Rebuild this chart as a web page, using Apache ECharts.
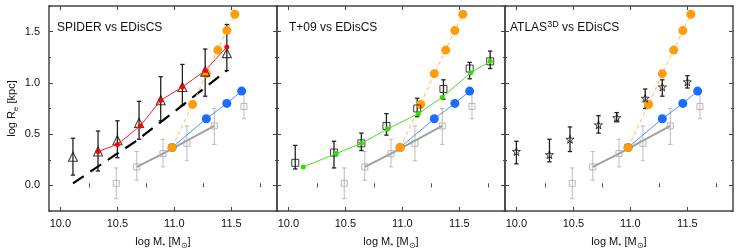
<!DOCTYPE html>
<html><head><meta charset="utf-8">
<script src="https://cdn.jsdelivr.net/npm/echarts@6/dist/echarts.min.js"></script>
<style>html,body{margin:0;padding:0;background:#fff}#c{width:747px;height:249px}</style>
</head><body><div id="c"></div>
<script>
// ---------- data ----------
const xMajor = [10.0, 10.5, 11.0, 11.5];
const xMinor = [10.25, 10.75, 11.25, 11.75];
const yMajor = [0.0, 0.5, 1.0, 1.5];
const yMinor = [-0.25, 0.25, 0.75, 1.25, 1.75];

// EDisCS (grey squares, all panels)
const edX  = [10.49, 10.67, 10.90, 11.11, 11.35, 11.61];
const edY  = [0.02, 0.18, 0.31, 0.41, 0.58, 0.77];
const edLo = [-0.13, 0.05, 0.18, 0.24, 0.40, 0.65];
const edHi = [0.17, 0.33, 0.45, 0.58, 0.75, 0.92];
const edLineX = [10.67, 10.90, 11.35];
const edLineY = [0.18, 0.31, 0.58];

// blue and orange circles (all panels)
const blueX = [10.98, 11.28, 11.46, 11.59];
const blueY = [0.37, 0.65, 0.80, 0.92];
const orangeX = [10.98, 11.16, 11.28, 11.38, 11.46, 11.53];
const orangeY = [0.37, 0.79, 1.09, 1.32, 1.51, 1.67];

// SPIDER (panel 1)
const spX  = [10.11, 10.33, 10.50, 10.69, 10.88, 11.07, 11.27, 11.46];
const spY  = [0.28, 0.33, 0.44, 0.61, 0.83, 0.96, 1.11, 1.29];
const spLo = [0.10, 0.14, 0.27, 0.45, 0.63, 0.78, 0.87, 1.12];
const spHi = [0.46, 0.53, 0.63, 0.82, 1.06, 1.18, 1.33, 1.57];
const redX = [10.33, 10.50, 10.70, 10.88, 11.07, 11.27, 11.46];
const redY = [0.33, 0.40, 0.58, 0.83, 0.96, 1.12, 1.35];
const dashX = [10.11, 10.66, 11.07, 11.46];
const dashY = [0.02, 0.43, 0.78, 1.12];

// T+09 (panel 2)
const tX  = [10.06, 10.40, 10.64, 10.86, 11.13, 11.36, 11.59, 11.77];
const tY  = [0.22, 0.32, 0.41, 0.58, 0.75, 0.94, 1.14, 1.21];
const tLo = [0.16, 0.17, 0.34, 0.49, 0.67, 0.84, 1.04, 1.14];
const tHi = [0.39, 0.43, 0.51, 0.70, 0.85, 1.03, 1.20, 1.31];
const greenX = [10.13, 10.42, 10.64, 10.87, 11.14, 11.35, 11.60, 11.77];
const greenY = [0.18, 0.31, 0.41, 0.55, 0.70, 0.86, 1.10, 1.21];

// ATLAS3D (panel 3)
const aX  = [10.00, 10.29, 10.47, 10.72, 10.88, 11.13, 11.28, 11.50];
const aY  = [0.33, 0.30, 0.45, 0.59, 0.66, 0.85, 0.96, 1.01];
const aLo = [0.21, 0.23, 0.33, 0.51, 0.62, 0.75, 0.87, 0.95];
const aHi = [0.43, 0.45, 0.57, 0.68, 0.71, 0.94, 1.03, 1.07];

// ---------- helpers ----------
const FONT = '"Liberation Sans", Arial, Helvetica, sans-serif';
const FRAME = '#444';
const zip = (a, b) => a.map((v, i) => [v, b[i]]);
const zip3 = (a, b, c) => a.map((v, i) => [v, b[i], c[i]]);
const STAR = 'path://M50,2 L61,37 L98,37 L68,59 L79,95 L50,73 L21,95 L32,59 L2,37 L39,37 Z';
const LEFTS = [49, 277, 505], W = 228, TOP = 6, H = 205;

function errSeries(g, x, lo, hi, color, lw) {
  return {
    type: 'custom', xAxisIndex: g * 4, yAxisIndex: g * 4, z: 2, silent: true,
    data: zip3(x, lo, hi),
    renderItem: (params, api) => {
      const p1 = api.coord([api.value(0), api.value(2)]);
      const p2 = api.coord([api.value(0), api.value(1)]);
      const w = 2.2;
      const st = { stroke: color, lineWidth: lw };
      return { type: 'group', children: [
        { type: 'line', shape: { x1: p1[0], y1: p1[1], x2: p2[0], y2: p2[1] }, style: st },
        { type: 'line', shape: { x1: p1[0] - w, y1: p1[1], x2: p1[0] + w, y2: p1[1] }, style: st },
        { type: 'line', shape: { x1: p2[0] - w, y1: p2[1], x2: p2[0] + w, y2: p2[1] }, style: st }
      ]};
    }
  };
}

function axesX(g) {
  const base = { type: 'value', gridIndex: g, min: 9.9, max: 11.9, splitLine: { show: false },
    axisLine: { onZero: false, lineStyle: { color: FRAME, width: 1.5 } } };
  const tk = (vals, len) => ({ inside: true, length: len, customValues: vals, lineStyle: { color: FRAME, width: 1 } });
  return [
    Object.assign({}, base, { position: 'bottom', axisTick: tk(xMajor, 4),
      axisLabel: { customValues: xMajor, formatter: v => v.toFixed(1), color: '#111', fontSize: 11, fontFamily: FONT, margin: 7 },
      name: 'log M{sub|*} [M{sub|⊙}]', nameLocation: 'middle', nameGap: 22,
      nameTextStyle: { color: '#111', fontSize: 11, fontFamily: FONT, lineHeight: 16,
        rich: { sub: { fontSize: 8, fontFamily: FONT, color: '#111', verticalAlign: 'bottom', lineHeight: 9 } } } }),
    Object.assign({}, base, { position: 'bottom', axisLine: { show: false }, axisTick: tk(xMinor, 2), axisLabel: { show: false } }),
    Object.assign({}, base, { position: 'top', axisTick: tk(xMajor, 4), axisLabel: { show: false } }),
    Object.assign({}, base, { position: 'top', axisLine: { show: false }, axisTick: tk(xMinor, 2), axisLabel: { show: false } })
  ];
}
function axesY(g) {
  const base = { type: 'value', gridIndex: g, min: -0.25, max: 1.75, splitLine: { show: false },
    axisLine: { onZero: false, lineStyle: { color: FRAME, width: 1.5 } } };
  const tk = (vals, len) => ({ inside: true, length: len, customValues: vals, lineStyle: { color: FRAME, width: 1 } });
  const main = Object.assign({}, base, { position: 'left', axisTick: tk(yMajor, 4),
    axisLabel: g === 0 ? { customValues: yMajor, formatter: v => v.toFixed(1), color: '#111', fontSize: 11, fontFamily: FONT, margin: 9 } : { show: false } });
  if (g === 0) {
    Object.assign(main, { name: 'log R{sub|e} [kpc]', nameLocation: 'middle', nameGap: 29,
      nameTextStyle: { color: '#111', fontSize: 11, fontFamily: FONT, lineHeight: 16,
        rich: { sub: { fontSize: 8, fontFamily: FONT, color: '#111', verticalAlign: 'bottom', lineHeight: 9 } } } });
  }
  return [
    main,
    Object.assign({}, base, { position: 'left', axisLine: { show: false }, axisTick: tk(yMinor, 2), axisLabel: { show: false } }),
    Object.assign({}, base, { position: 'right', axisTick: tk(yMajor, 4), axisLabel: { show: false } }),
    Object.assign({}, base, { position: 'right', axisLine: { show: false }, axisTick: tk(yMinor, 2), axisLabel: { show: false } })
  ];
}

function commonSeries(g) {
  const ax = { xAxisIndex: g * 4, yAxisIndex: g * 4 };
  return [
    errSeries(g, edX, edLo, edHi, '#bcbcbc', 1),
    Object.assign({ type: 'line', data: zip(edLineX, edLineY), symbol: 'none', z: 3,
      lineStyle: { color: '#a0a0a0', width: 2 } }, ax),
    Object.assign({ type: 'scatter', data: zip(edX, edY), symbol: 'rect', symbolSize: 6, z: 4,
      itemStyle: { color: 'rgba(255,255,255,0)', borderColor: '#a8a8a8', borderWidth: 1 } }, ax),
    Object.assign({ type: 'line', data: zip(blueX, blueY), symbol: 'circle', symbolSize: 9, showSymbol: true, z: 5,
      lineStyle: { color: '#4a90ff', width: 1 }, itemStyle: { color: '#1a6dff' } }, ax),
    Object.assign({ type: 'line', data: zip(orangeX, orangeY), symbol: 'circle', symbolSize: 9, showSymbol: true, z: 6,
      lineStyle: { color: '#ffb860', width: 1, type: [4, 3] }, itemStyle: { color: '#ff9c0a' } }, ax)
  ];
}

const series = [];
// panel 1
series.push(...commonSeries(0));
series.push({ type: 'line', xAxisIndex: 0, yAxisIndex: 0, data: zip(dashX, dashY), symbol: 'none', z: 3,
  lineStyle: { color: '#000', width: 2.2, type: [13, 8] } });
series.push(errSeries(0, spX, spLo, spHi, '#222', 1.3));
series.push({ type: 'scatter', xAxisIndex: 0, yAxisIndex: 0, data: zip(spX, spY), symbol: 'triangle', symbolSize: 9, z: 7,
  itemStyle: { color: 'rgba(255,255,255,0)', borderColor: '#111', borderWidth: 1.1 } });
series.push({ type: 'line', xAxisIndex: 0, yAxisIndex: 0, data: zip(redX, redY), symbol: 'circle', symbolSize: 5, z: 8,
  lineStyle: { color: '#ff1a1a', width: 1 }, itemStyle: { color: '#ff0000' } });
// panel 2
series.push(...commonSeries(1));
series.push(errSeries(1, tX, tLo, tHi, '#222', 1.3));
series.push({ type: 'scatter', xAxisIndex: 4, yAxisIndex: 4, data: zip(tX, tY), symbol: 'rect', symbolSize: 7, z: 7,
  itemStyle: { color: 'rgba(255,255,255,0)', borderColor: '#111', borderWidth: 1 } });
series.push({ type: 'line', xAxisIndex: 4, yAxisIndex: 4, data: zip(greenX, greenY), symbol: 'circle', symbolSize: 5, z: 8,
  lineStyle: { color: '#44e61c', width: 1 }, itemStyle: { color: '#33dd00' } });
// panel 3
series.push(...commonSeries(2));
series.push(errSeries(2, aX, aLo, aHi, '#222', 1.3));
series.push({ type: 'scatter', xAxisIndex: 8, yAxisIndex: 8, data: zip(aX, aY), symbol: STAR, symbolSize: 8, z: 7,
  itemStyle: { color: 'rgba(255,255,255,0)', borderColor: '#111', borderWidth: 1 } });

const titleStyle = { color: '#111', fontSize: 12, fontFamily: FONT, fontWeight: 'normal', lineHeight: 16,
  rich: { a: { fontSize: 12, fontFamily: FONT, color: '#111' },
          sup: { fontSize: 9, fontFamily: FONT, color: '#111', verticalAlign: 'top', lineHeight: 10 } } };

const option = {
  animation: false,
  backgroundColor: '#fff',
  title: [
    { text: 'SPIDER vs EDisCS', left: 57, top: 20, padding: 0, textStyle: titleStyle },
    { text: 'T+09 vs EDisCS', left: 289, top: 20, padding: 0, textStyle: titleStyle },
    { text: '{a|ATLAS}{sup|3D}{a| vs EDisCS}', left: 510, top: 20, padding: 0, textStyle: titleStyle }
  ],
  grid: LEFTS.map(l => ({ left: l, top: TOP, width: W, height: H, outerBoundsMode: 'none', containLabel: false })),
  xAxis: [...axesX(0), ...axesX(1), ...axesX(2)],
  yAxis: [...axesY(0), ...axesY(1), ...axesY(2)],
  series: series
};
const chart = echarts.init(document.getElementById('c'), null, { renderer: 'canvas' });
chart.setOption(option);
</script></body></html>
